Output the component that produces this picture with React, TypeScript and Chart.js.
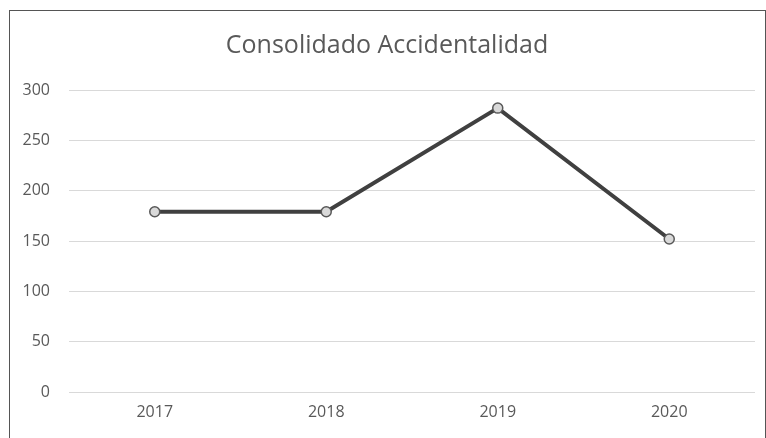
import React, { useEffect, useRef } from "react";
import { Chart, registerables } from "chart.js";

Chart.register(...registerables);

const categories = ["2017", "2018", "2019", "2020"];
const values = [179, 179, 282, 152];
const yTicks = [0, 50, 100, 150, 200, 250, 300];
const title = "Consolidado Accidentalidad";

export default function App() {
  const ref = useRef<HTMLCanvasElement>(null);
  useEffect(() => {
    const font = "'Open Sans', 'Noto Sans', sans-serif";
    const titlePlugin = {
      id: "customTitle",
      afterDraw(chart: any) {
        const ctx = chart.ctx;
        ctx.save();
        ctx.font = `normal 25px ${font}`;
        ctx.fillStyle = "#595959";
        ctx.textAlign = "center";
        ctx.textBaseline = "middle";
        ctx.fillText(title, 387, 46);
        ctx.restore();
      },
    };
    const chart = new Chart(ref.current!, {
      type: "line",
      data: {
        labels: categories,
        datasets: [
          {
            data: values,
            borderColor: "#404040",
            borderWidth: 4,
            pointRadius: 5,
            pointBackgroundColor: "#d9d9d9",
            pointBorderColor: "#595959",
            pointBorderWidth: 1.5,
            tension: 0,
          },
        ],
      },
      plugins: [titlePlugin],
      options: {
        animation: false,
        responsive: false,
        layout: { padding: { left: 0, right: 11, top: 90, bottom: 0 } },
        plugins: {
          legend: { display: false },
          tooltip: { enabled: false },
          title: { display: false },
        },
        scales: {
          x: {
            offset: true,
            grid: { display: false, drawTicks: false },
            border: { display: false },
            ticks: {
              color: "#595959",
              font: { family: font, size: 16 },
              padding: 11,
            },
            afterFit: (s: any) => {
              s.height = 46;
            },
          },
          y: {
            min: 0,
            max: 300,
            afterBuildTicks: (s: any) => {
              s.ticks = yTicks.map((v) => ({ value: v }));
            },
            grid: { color: "#d9d9d9", lineWidth: 1, drawTicks: false },
            border: { display: false },
            ticks: {
              color: "#595959",
              font: { family: font, size: 16 },
              padding: 19,
            },
            afterFit: (s: any) => {
              s.width = 69;
            },
          },
        },
      },
    });
    return () => chart.destroy();
  }, []);
  return (
    <div style={{ position: "fixed", left: 0, top: 0, width: 766, height: 438, background: "#fff" }}>
      <canvas ref={ref} width={766} height={438} style={{ position: "absolute", left: 0, top: 0 }} />
      <div
        style={{
          position: "absolute",
          left: 9,
          top: 10,
          width: 755,
          height: 440,
          borderLeft: "1.5px solid #555",
          borderTop: "1.5px solid #555",
          borderRight: "1.5px solid #555",
          pointerEvents: "none",
        }}
      />
    </div>
  );
}
